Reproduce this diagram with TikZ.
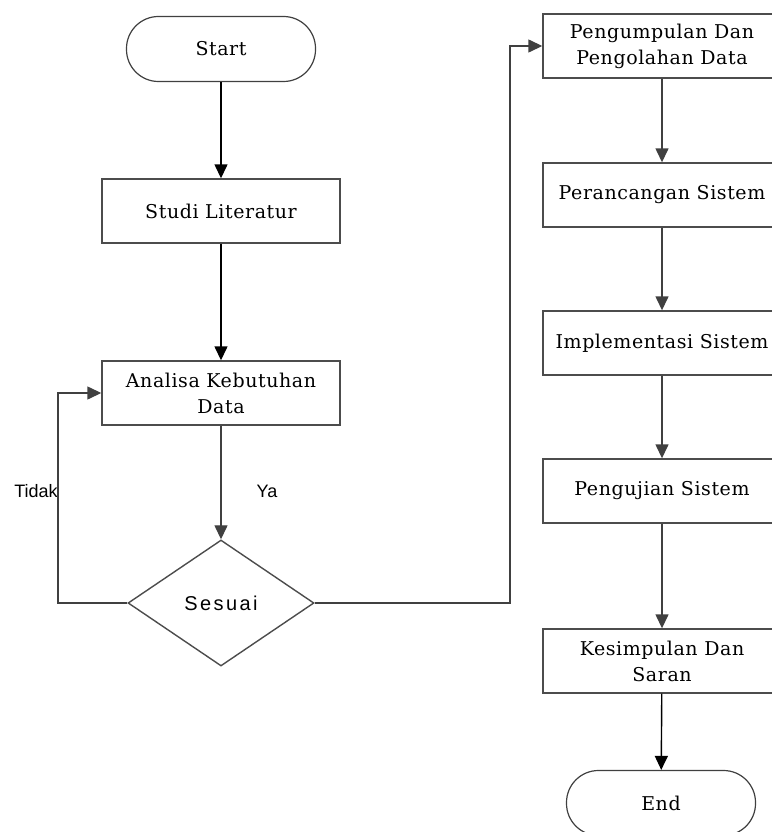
\documentclass[tikz,border=0pt]{standalone}
\usepackage{fontspec}
\usetikzlibrary{arrows.meta,shapes.geometric}
\newfontfamily\boxfont{DejaVu Serif}[LetterSpace=3]
\newfontfamily\labelfont{Liberation Sans}[LetterSpace=12]
\newfontfamily\answerfont{Liberation Sans}

\begin{document}
\begin{tikzpicture}[x=1pt,y=1pt,yscale=-1,xscale=1,
  terminal/.style={draw=black!75,line width=1.2pt,rounded corners=32pt,minimum width=189pt,minimum height=65pt,font=\boxfont\fontsize{19}{26}\selectfont},
  process/.style={draw=black!70,line width=1.4pt,minimum width=238pt,minimum height=64pt,align=center,font=\boxfont\fontsize{19}{26}\selectfont},
  decision/.style={diamond,draw=black!70,line width=1.4pt,minimum width=186pt,minimum height=126pt,inner sep=0pt,font=\labelfont\fontsize{20}{24}\selectfont},
  flow/.style={draw=black!75,line width=1.4pt,-{Triangle[length=14pt,width=13pt]}},
  answer/.style={font=\answerfont\fontsize{18}{20}\selectfont}]
\useasboundingbox (0,0) rectangle (771,832);
\node[terminal] (start) at (221,49) {Start};
\node[process] (studi) at (221,211) {Studi Literatur};
\node[process] (analisa) at (221,393) {Analisa Kebutuhan\\Data};
\node[decision] (sesuai) at (221,603) {Sesuai};
\node[process] (kumpul) at (662,46) {Pengumpulan Dan\\Pengolahan Data};
\node[process] (rancang) at (662,195) {Perancangan Sistem};
\node[process] (implementasi) at (662,343) {Implementasi Sistem};
\node[process] (uji) at (662,491) {Pengujian Sistem};
\node[process] (simpul) at (662,661) {Kesimpulan Dan\\Saran};
\node[terminal] (end) at (661,803) {End};
\node[answer] (tidak) at (36,491) {Tidak};
\node[answer] (ya) at (267,491) {Ya};
\coordinate (loopL) at (58,603);
\coordinate (loopR) at (510,603);
\draw[flow,draw=black] (start) -- (studi);
\draw[flow,draw=black] (studi) -- (analisa);
\draw[flow] (analisa) -- (sesuai);
\draw[flow] (sesuai.west) -- (loopL) |- (analisa.west);
\draw[flow] (sesuai.east) -- (loopR) |- (kumpul.west);
\draw[flow] (kumpul) -- (rancang);
\draw[flow] (rancang) -- (implementasi);
\draw[flow] (implementasi) -- (uji);
\draw[flow] (uji) -- (simpul);
\draw[flow,draw=black] (simpul) -- (end);
\end{tikzpicture}
\end{document}
